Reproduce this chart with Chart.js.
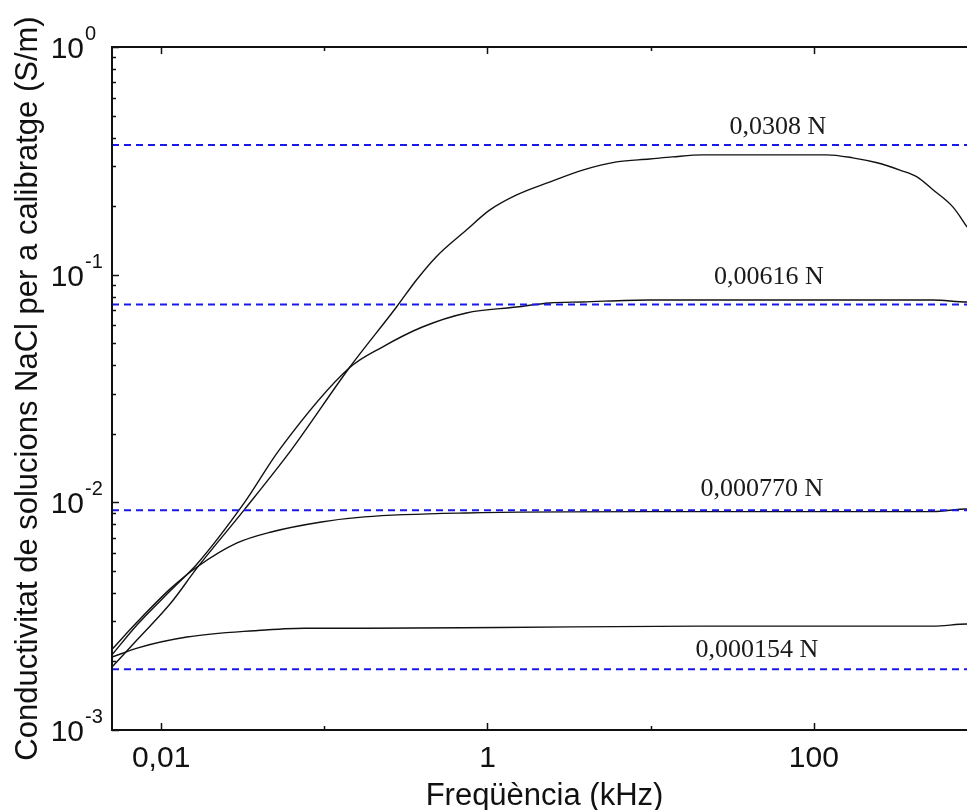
<!DOCTYPE html>
<html>
<head>
<meta charset="utf-8">
<script src="https://cdn.jsdelivr.net/npm/chart.js@4.4.1/dist/chart.umd.min.js"></script>
<style>
  html, body { margin: 0; padding: 0; background: #fff; overflow: hidden; }
  #wrap { width: 977px; height: 810px; }
</style>
</head>
<body>
<div id="wrap"><canvas id="chart"></canvas></div>
<script>
// curves: frequency (kHz) and conductivity (S/m)
const freqA = [0.005, 0.00713, 0.0115, 0.0166, 0.0323, 0.0628, 0.142, 0.277, 0.367, 0.486, 0.743, 1.03, 1.51, 2.4, 3.83, 6.18, 9.86, 13.6, 20.8, 120, 173, 244, 337, 429, 537, 713, 869, 1000];
const condA = [0.00189, 0.00249, 0.00362, 0.00515, 0.00927, 0.017, 0.0389, 0.0721, 0.0948, 0.12, 0.157, 0.192, 0.224, 0.255, 0.288, 0.313, 0.322, 0.329, 0.336, 0.336, 0.326, 0.31, 0.288, 0.269, 0.236, 0.198, 0.162, 0.14];

const freqB = [0.005, 0.00713, 0.0115, 0.0166, 0.0323, 0.053, 0.142, 0.227, 0.399, 0.743, 1.51, 2.4, 3.83, 9.86, 537, 869, 1000];
const condB = [0.00214, 0.0029, 0.00412, 0.00536, 0.00994, 0.017, 0.0389, 0.0481, 0.0589, 0.0679, 0.0721, 0.0751, 0.0759, 0.0774, 0.0774, 0.0759, 0.0759];

const freqC = [0.005, 0.00713, 0.0115, 0.0166, 0.0292, 0.0473, 0.096, 0.176, 0.743, 9.86, 537, 869, 1000];
const condC = [0.00226, 0.00298, 0.0042, 0.0052, 0.00663, 0.00741, 0.0082, 0.00863, 0.00898, 0.0091, 0.0091, 0.00935, 0.00935];

const freqD = [0.005, 0.00713, 0.0144, 0.0372, 0.0753, 0.176, 1.18, 20, 537, 869, 1000];
const condD = [0.00209, 0.00229, 0.00256, 0.00273, 0.0028, 0.0028, 0.00282, 0.00286, 0.00286, 0.00292, 0.00292];

// nominal conductivity of each calibration solution
const refLevels = [0.371, 0.0739, 0.00924, 0.00185];
const refLabels = ["0,0308 N", "0,00616 N", "0,000770 N", "0,000154 N"];

// axes
const xRange = [0.005, 1000];
const yRange = [0.001, 1];
const xMajorTicks = [0.01, 1, 100];
const xMajorLabels = ["0,01", "1", "100"];
const xMinorTicks = [0.1, 10];
const yDecades = [1, 0.1, 0.01, 0.001];
const yExponents = ["0", "-1", "-2", "-3"];
const xTitle = "Freqüència (kHz)";
const yTitle = "Conductivitat de solucions NaCl per a calibratge (S/m)";

function pts(xs, ys) {
  return xs.map((v, i) => ({ x: v, y: ys[i] }));
}

const curves = [
  [freqA, condA],
  [freqB, condB],
  [freqC, condC],
  [freqD, condD],
].map(([f, c]) => ({
  data: pts(f, c),
  borderColor: "#111",
  borderWidth: 1.4,
  pointRadius: 0,
  cubicInterpolationMode: "monotone",
  order: 2,
}));

const refLines = refLevels.map((v) => ({
  data: pts(xRange, [v, v]),
  borderColor: "rgb(25, 25, 235)",
  borderWidth: 2,
  borderDash: [7, 5],
  pointRadius: 0,
  order: 1,
}));

// frame, inward ticks, tick labels, titles and line labels
const decorations = {
  id: "decorations",
  afterDraw(chart) {
    const { ctx, chartArea: a, scales } = chart;
    const xs = scales.x, ys = scales.y;
    ctx.save();
    ctx.strokeStyle = "#111";
    ctx.lineWidth = 2;
    ctx.beginPath();
    ctx.moveTo(a.right + 2, a.top);
    ctx.lineTo(a.left, a.top);
    ctx.lineTo(a.left, a.bottom);
    ctx.lineTo(a.right + 2, a.bottom);
    ctx.stroke();

    ctx.lineWidth = 1.5;
    ctx.beginPath();
    const xTick = (v, len) => {
      const px = Math.round(xs.getPixelForValue(v)) + 0.5;
      ctx.moveTo(px, a.bottom); ctx.lineTo(px, a.bottom - len);
      ctx.moveTo(px, a.top); ctx.lineTo(px, a.top + len);
    };
    xMajorTicks.forEach((v) => xTick(v, 7));
    xMinorTicks.forEach((v) => xTick(v, 4));
    yDecades.forEach((d) => {
      const py = Math.round(ys.getPixelForValue(d)) + 0.5;
      ctx.moveTo(a.left, py); ctx.lineTo(a.left + 7, py);
      if (d < 1) {
        for (let m = 2; m <= 9; m++) {
          const pm = Math.round(ys.getPixelForValue(d * m)) + 0.5;
          ctx.moveTo(a.left, pm); ctx.lineTo(a.left + 4, pm);
        }
      }
    });
    ctx.stroke();

    ctx.fillStyle = "#111";
    ctx.font = '30px "Liberation Sans", Arial, sans-serif';
    ctx.textAlign = "center";
    ctx.textBaseline = "alphabetic";
    xMajorTicks.forEach((v, i) => {
      ctx.fillText(xMajorLabels[i], xs.getPixelForValue(v), a.bottom + 37);
    });

    yDecades.forEach((d, i) => {
      const py = ys.getPixelForValue(d);
      ctx.font = '30px "Liberation Sans", Arial, sans-serif';
      ctx.textAlign = "right";
      ctx.fillText("10", a.left - 28, py + 11);
      ctx.font = '20px "Liberation Sans", Arial, sans-serif';
      ctx.textAlign = "left";
      ctx.fillText(yExponents[i], a.left - 27, py - 7);
    });

    ctx.font = '31px "Liberation Sans", Arial, sans-serif';
    ctx.textAlign = "center";
    ctx.fillText(xTitle, (a.left + a.right) / 2, 805);
    ctx.save();
    ctx.translate(37, (a.top + a.bottom) / 2);
    ctx.rotate(-Math.PI / 2);
    ctx.fillText(yTitle, 0, 0);
    ctx.restore();

    // labels above the dashed lines
    const labelPos = [[778, 11], [769, 21], [762, 14], [757, 12]];
    ctx.font = '26px "Liberation Serif", "Times New Roman", serif';
    ctx.fillStyle = "#1a1a1a";
    ctx.textAlign = "center";
    refLevels.forEach((v, i) => {
      ctx.fillText(refLabels[i], labelPos[i][0], ys.getPixelForValue(v) - labelPos[i][1]);
    });
    ctx.restore();
  },
};

new Chart(document.getElementById("chart"), {
  type: "line",
  data: { datasets: [...refLines, ...curves] },
  options: {
    responsive: true,
    maintainAspectRatio: false,
    animation: false,
    layout: { padding: { left: 112, top: 47, right: 0, bottom: 80 } },
    plugins: { legend: { display: false }, tooltip: { enabled: false } },
    scales: {
      x: { type: "logarithmic", min: xRange[0], max: xRange[1], display: false },
      y: { type: "logarithmic", min: yRange[0], max: yRange[1], display: false },
    },
  },
  plugins: [decorations],
});
</script>
</body>
</html>
